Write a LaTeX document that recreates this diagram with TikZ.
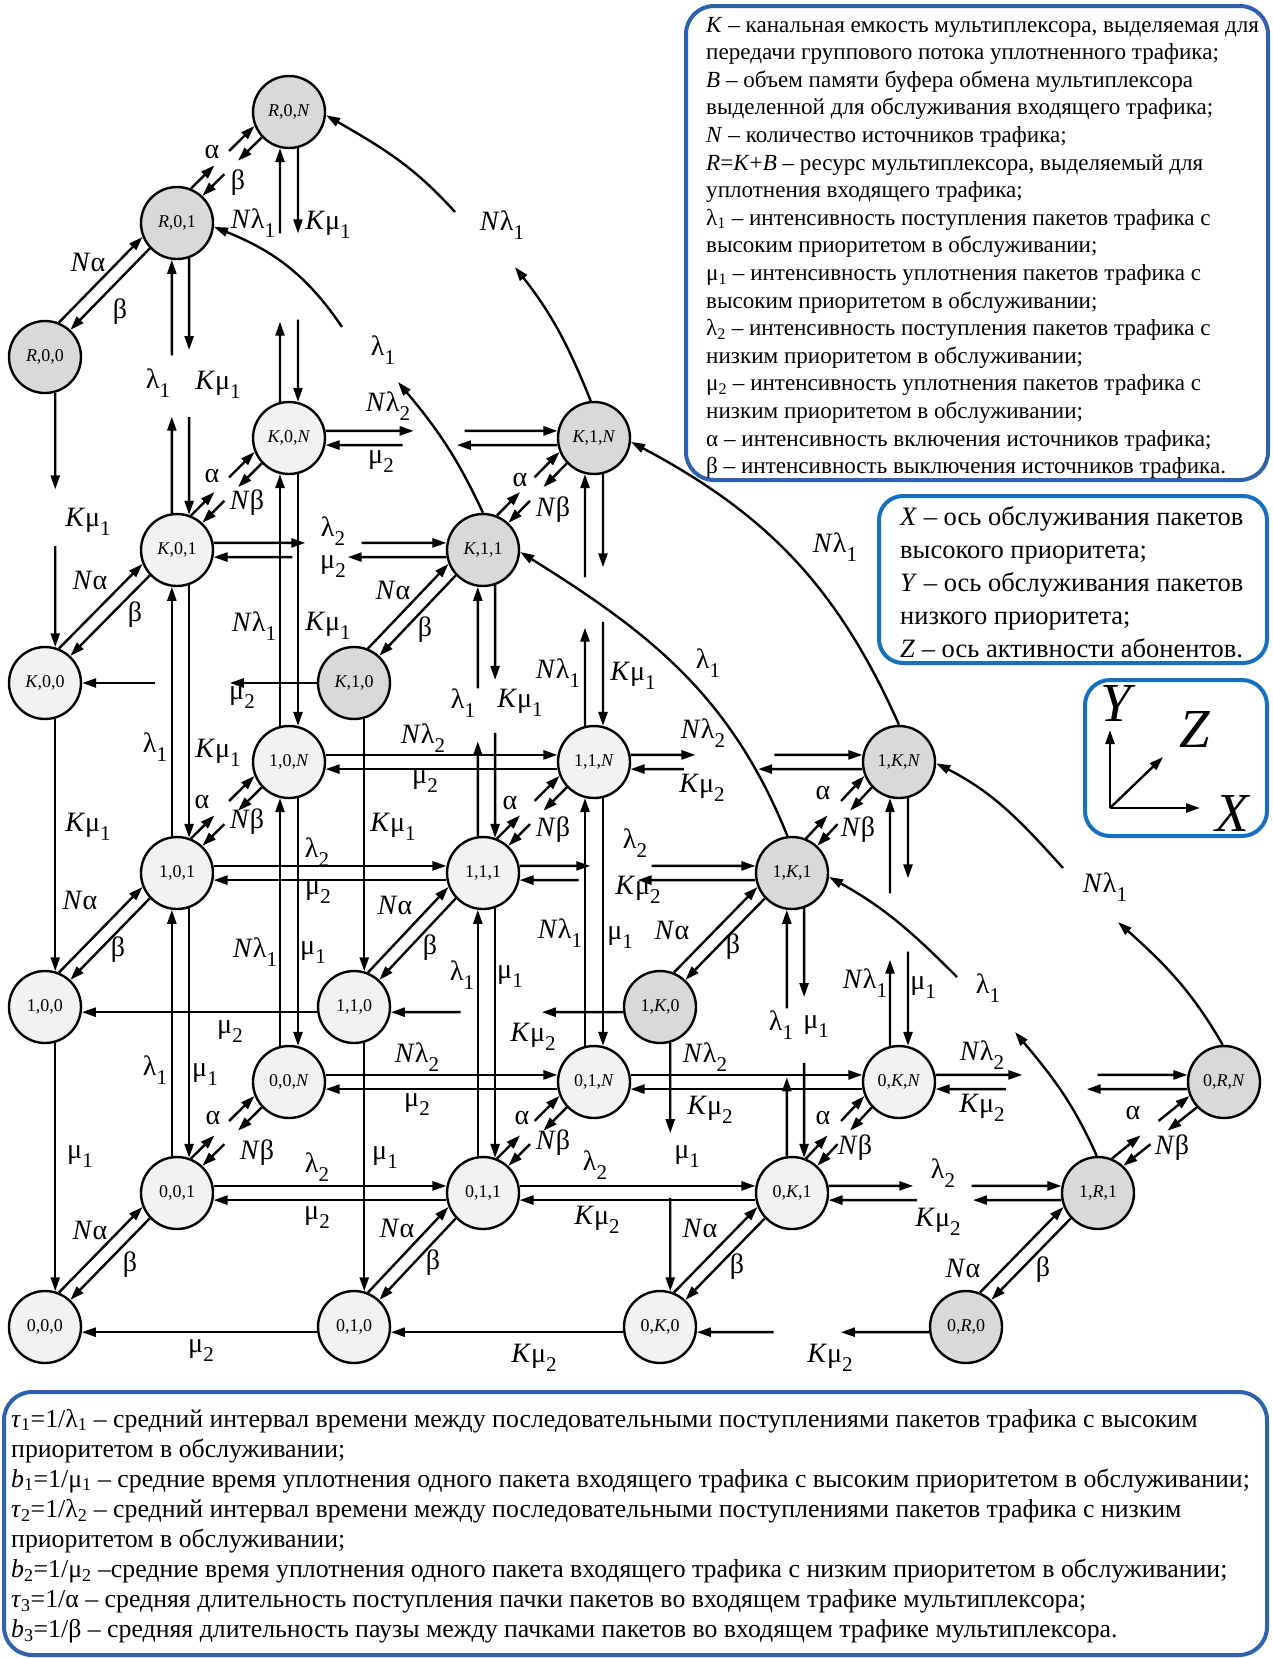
\documentclass[tikz,border=0pt]{standalone}
\usepackage{fontspec}
\setmainfont{Liberation Serif}[Ligatures=TeX]
\usetikzlibrary{arrows.meta,calc}
\definecolor{lightnode}{HTML}{F2F2F2}
\definecolor{darknode}{HTML}{D9D9D9}
\definecolor{boxa}{HTML}{2E62AD}
\definecolor{boxb}{HTML}{1570C2}
\newcommand\lsub[1]{\raisebox{-0.32em}{\fontsize{21}{21}\selectfont #1}}
\newcommand\LNa{\textit{N}α}
\newcommand\LNb{\textit{N}β}
\newcommand\LNlA{\textit{N}λ\lsub{1}}
\newcommand\LNlB{\textit{N}λ\lsub{2}}
\newcommand\LKmA{\textit{K}μ\lsub{1}}
\newcommand\LKmB{\textit{K}μ\lsub{2}}
\newcommand\LlA{λ\lsub{1}}
\newcommand\LlB{λ\lsub{2}}
\newcommand\LmA{μ\lsub{1}}
\newcommand\LmB{μ\lsub{2}}
% diagonal pairs (A lower-left, B upper-right)
\newcommand\dpair[2]{\draw[arr] (#1.68) -- (#2.202); \draw[arr] (#2.223) -- (#1.47);}
\newcommand\dbroken[2]{%
 \draw[arr] (#1.68) -- ($(#1.68)!0.37!(#2.202)$);
 \draw[arr] ($(#1.68)!0.6!(#2.202)$) -- (#2.202);
 \draw[arr] (#2.223) -- ($(#2.223)!0.4!(#1.47)$);
 \draw[arr] ($(#2.223)!0.63!(#1.47)$) -- (#1.47);}
% horizontal pairs (A left, B right)
\newcommand\hpair[2]{\draw[arr] (#1.11) -- (#2.169); \draw[arr] (#2.191) -- (#1.349);}
\newcommand\hbroken[6]{%
 \draw[arr] (#1.11) -- ($(#1.11)!#3!(#2.169)$);
 \draw[arr] ($(#1.11)!#4!(#2.169)$) -- (#2.169);
 \draw[arr] (#2.191) -- ($(#2.191)!#5!(#1.349)$);
 \draw[arr] ($(#2.191)!#6!(#1.349)$) -- (#1.349);}
\newcommand\hsingle[2]{\draw[arr] (#1.188) -- (#2.352);}
\newcommand\hsingleb[4]{%
 \draw[arr] (#1.188) -- ($(#1.188)!#3!(#2.352)$);
 \draw[arr] ($(#1.188)!#4!(#2.352)$) -- (#2.352);}
% vertical pairs (U upper, L lower)
\newcommand\vNpair[2]{\draw[arr] (#2.104) -- (#1.256); \draw[arr] (#1.284) -- (#2.76);}
\newcommand\vOpair[2]{\draw[arr] (#2.98) -- (#1.262); \draw[arr] (#1.289) -- (#2.71);}
\newcommand\vNb[6]{%
 \draw[arr] (#2.104) -- ($(#2.104)!#3!(#1.256)$);
 \draw[arr] ($(#2.104)!#4!(#1.256)$) -- (#1.256);
 \draw[arr] (#1.284) -- ($(#1.284)!#5!(#2.76)$);
 \draw[arr] ($(#1.284)!#6!(#2.76)$) -- (#2.76);}
\newcommand\vOb[6]{%
 \draw[arr] (#2.98) -- ($(#2.98)!#3!(#1.262)$);
 \draw[arr] ($(#2.98)!#4!(#1.262)$) -- (#1.262);
 \draw[arr] (#1.289) -- ($(#1.289)!#5!(#2.71)$);
 \draw[arr] ($(#1.289)!#6!(#2.71)$) -- (#2.71);}
\newcommand\vsingle[2]{\draw[arr] (#1.286) -- (#2.74);}
\newcommand\vsingleb[4]{%
 \draw[arr] (#1.286) -- ($(#1.286)!#3!(#2.74)$);
 \draw[arr] ($(#1.286)!#4!(#2.74)$) -- (#2.74);}
\tikzset{
  st/.style={circle, draw, line width=2.4pt, minimum size=72pt, inner sep=0pt, font=\fontsize{18}{18}\selectfont},
  lt/.style={st, fill=lightnode},
  dk/.style={st, fill=darknode},
  arr/.style={line width=2.4pt, -{Triangle[length=14pt,width=9pt]}},
  lbl/.style={inner sep=0pt, font=\fontsize{28}{28}\selectfont},
  legA/.style={anchor=base west, inner sep=0pt, font=\fontsize{23.1}{23.1}\selectfont},
  legB/.style={anchor=base west, inner sep=0pt, font=\fontsize{26.5}{26.5}\selectfont},
  legC/.style={anchor=base west, inner sep=0pt, font=\fontsize{25.8}{25.8}\selectfont},
  axl/.style={inner sep=0pt, font=\fontsize{55}{55}\selectfont\itshape},
}
\begin{document}
\begin{tikzpicture}[x=1pt,y=1pt]
\fill[white] (0,0) rectangle (1273,-1658);
\useasboundingbox (0,0) rectangle (1273,-1658);

% ---------------- nodes
\node[dk] (nR00) at (45,-357) {\textit{R},0,0};
\node[dk] (nR01) at (177,-223) {\textit{R},0,1};
\node[dk] (nR0N) at (289,-112) {\textit{R},0,\textit{N}};
\node[lt] (nK00) at (45,-683) {\textit{K},0,0};
\node[lt] (nK01) at (177,-550) {\textit{K},0,1};
\node[lt] (nK0N) at (289,-438) {\textit{K},0,\textit{N}};
\node[dk] (nK10) at (354,-683) {\textit{K},1,0};
\node[dk] (nK11) at (483,-550) {\textit{K},1,1};
\node[dk] (nK1N) at (594,-438) {\textit{K},1,\textit{N}};
\node[lt] (n100) at (45,-1007) {1,0,0};
\node[lt] (n101) at (177,-873) {1,0,1};
\node[lt] (n10N) at (289,-762) {1,0,\textit{N}};
\node[lt] (n110) at (354,-1007) {1,1,0};
\node[lt] (n111) at (483,-873) {1,1,1};
\node[lt] (n11N) at (594,-762) {1,1,\textit{N}};
\node[dk] (n1K0) at (660,-1007) {1,\textit{K},0};
\node[dk] (n1K1) at (792,-873) {1,\textit{K},1};
\node[dk] (n1KN) at (899,-762) {1,\textit{K},\textit{N}};
\node[lt] (n000) at (45,-1327) {0,0,0};
\node[lt] (n001) at (177,-1193) {0,0,1};
\node[lt] (n00N) at (289,-1082) {0,0,\textit{N}};
\node[lt] (n010) at (354,-1327) {0,1,0};
\node[lt] (n011) at (483,-1193) {0,1,1};
\node[lt] (n01N) at (594,-1082) {0,1,\textit{N}};
\node[lt] (n0K0) at (660,-1327) {0,\textit{K},0};
\node[lt] (n0K1) at (792,-1193) {0,\textit{K},1};
\node[lt] (n0KN) at (899,-1082) {0,\textit{K},\textit{N}};
\node[dk] (n0R0) at (966,-1327) {0,\textit{R},0};
\node[dk] (n1R1) at (1098,-1193) {1,\textit{R},1};
\node[dk] (n0RN) at (1224,-1082) {0,\textit{R},\textit{N}};

% ---------------- R layer
\dpair{nR00}{nR01}
\dbroken{nR01}{nR0N}
\vNb{nR0N}{nK0N}{0.316}{0.664}{0.336}{0.676}
\vOb{nR01}{nK01}{0.381}{0.623}{0.358}{0.619}
\vsingleb{nR00}{nK00}{0.38}{0.603}

% ---------------- K layer
\hbroken{nK0N}{nK1N}{0.38}{0.60}{0.434}{0.668}
\dbroken{nK01}{nK0N}
\dpair{nK00}{nK01}
\hbroken{nK01}{nK11}{0.394}{0.636}{0.424}{0.661}
\draw[arr] (nK10.180) -- ($(nK10.180)!0.371!(nK00.0)$);
\draw[arr] ($(nK10.180)!0.688!(nK00.0)$) -- (nK00.0);
\dpair{nK10}{nK11}
\dbroken{nK11}{nK1N}
\vNpair{nK0N}{n10N}
\vOpair{nK01}{n101}
\vsingle{nK00}{n100}
\vOb{nK11}{n111}{0.38}{0.593}{0.375}{0.585}
\vNb{nK1N}{n11N}{0.39}{0.59}{0.37}{0.587}
\vsingle{nK10}{n110}

% ---------------- 1 layer
\hpair{n10N}{n11N}
\hbroken{n11N}{n1KN}{0.28}{0.62}{0.45}{0.77}
\hpair{n101}{n111}
\hbroken{n111}{n1K1}{0.30}{0.56}{0.50}{0.75}
\hsingle{n110}{n100}
\hsingleb{n1K0}{n110}{0.35}{0.70}
\dbroken{n101}{n10N}
\dbroken{n111}{n11N}
\dbroken{n1K1}{n1KN}
\dpair{n100}{n101}
\dpair{n110}{n111}
\dpair{n1K0}{n1K1}
\vNpair{n10N}{n00N}
\vOpair{n101}{n001}
\vsingle{n100}{n000}
\vOpair{n111}{n011}
\vNpair{n11N}{n01N}
\vsingle{n110}{n010}
\vNb{n1KN}{n0KN}{0.348}{0.616}{0.324}{0.62}
\vOb{n1K1}{n0K1}{0.32}{0.6}{0.356}{0.62}
\vsingleb{n1K0}{n0K0}{0.364}{0.624}

% ---------------- 0 layer
\hpair{n00N}{n01N}
\hpair{n01N}{n0KN}
\hbroken{n0KN}{n0RN}{0.345}{0.643}{0.40}{0.72}
\hpair{n001}{n011}
\hpair{n011}{n0K1}
\hbroken{n0K1}{n1R1}{0.364}{0.614}{0.38}{0.62}
\hsingle{n010}{n000}
\hsingle{n0K0}{n010}
\hsingleb{n0R0}{n0K0}{0.38}{0.67}
\dbroken{n001}{n00N}
\dbroken{n011}{n01N}
\dbroken{n0K1}{n0KN}
\dbroken{n1R1}{n0RN}
\dpair{n000}{n001}
\dpair{n010}{n011}
\dpair{n0K0}{n0K1}
\dpair{n0R0}{n1R1}

% ---------------- curves
\coordinate (c1a) at (515,-267);
\coordinate (c1b) at (455,-212);
\coordinate (c2a) at (398,-382);
\coordinate (c2b) at (342,-327);
\coordinate (c5a) at (1015,-1032);
\coordinate (c5b) at (957,-977);
\coordinate (c6a) at (1118,-922);
\coordinate (c6b) at (1063,-868);
\draw[arr] (nK1N.95) to[out=112,in=-52] (c1a);
\draw[arr] (c1b) to[out=132,in=-30] (nR0N.355);
\draw[arr] (nK11.90) to[out=115,in=-50] (c2a);
\draw[arr] (c2b) to[out=124,in=-22] (nR01.354);
\draw[arr] (n1KN.90) to[out=114,in=-28] (nK1N.354);
\draw[arr] (n1K1.97) to[out=112,in=-32] (nK11.357);
\draw[arr] (n1R1.92) to[out=114,in=-50] (c5a);
\draw[arr] (c5b) to[out=135,in=-29] (n1K1.354);
\draw[arr] (n0RN.92) to[out=120,in=-42] (c6a);
\draw[arr] (c6b) to[out=132,in=-27] (n1KN.358);

% ---------------- labels
\foreach \x/\y/\t [count=\i] in {
 88/262/\LNa, 120/312/β, 212/152/α, 238/183/β, 253/223/\LNlA, 328/225/\LKmA,
 158/383/\LlA, 218/385/\LKmA, 88/522/\LKmA, 502/225/\LNlA, 383/350/\LlA,
 388/406/\LNlB, 381/462/\LmB, 212/476/α, 247/503/\LNb, 90/580/\LNa, 135/615/β,
 333/531/\LlB, 333/567/\LmB, 254/626/\LNlA, 328/626/\LKmA, 155/747/\LlA, 218/753/\LKmA,
 242/698/\LmB, 88/827/\LKmA, 520/480/α, 553/510/\LNb, 393/590/\LNa, 425/630/β,
 463/703/\LlA, 520/703/\LKmA, 558/673/\LNlA, 633/676/\LKmA, 835/547/\LNlA, 708/663/\LlA,
 423/738/\LNlB, 425/782/\LmB, 202/802/α, 247/822/\LNb, 80/900/\LNa, 118/950/β,
 317/852/\LlB, 318/893/\LmB, 255/952/\LNlA, 313/953/\LmA, 155/1070/\LlA, 205/1075/\LmA,
 230/1032/\LmB, 80/1157/\LmA, 393/827/\LKmA, 510/803/α, 553/830/\LNb, 395/905/\LNa,
 430/948/β, 703/733/\LNlB, 702/788/\LKmB, 635/843/\LlB, 638/890/\LKmB, 560/933/\LNlA,
 620/938/\LmA, 462/975/\LlA, 510/977/\LmA, 533/1037/\LKmB, 385/1158/\LmA, 823/793/α,
 858/830/\LNb, 672/930/\LNa, 733/947/β, 865/983/\LNlA, 923/988/\LmA, 781/1025/\LlA,
 816/1027/\LmA, 687/1157/\LmA, 1105/887/\LNlA, 988/988/\LlA,
 417/1057/\LNlB, 417/1105/\LmB, 213/1118/α, 257/1153/\LNb, 90/1230/\LNa, 130/1265/β,
 317/1167/\LlB, 317/1218/\LmB, 201/1351/\LmB, 522/1118/α, 553/1143/\LNb, 397/1228/\LNa,
 433/1263/β, 705/1057/\LNlB, 710/1110/\LKmB, 595/1165/\LlB, 597/1220/\LKmB, 534/1358/\LKmB,
 823/1118/α, 855/1148/\LNb, 700/1228/\LNa, 737/1267/β, 982/1055/\LNlB, 982/1108/\LKmB,
 943/1173/\LlB, 938/1222/\LKmB, 830/1358/\LKmB, 1133/1113/α, 1172/1148/\LNb,
 963/1268/\LNa, 1043/1270/β}
 \node[lbl] (lab\i) at (\x,-\y) {\t};

% ---------------- legend 1
\draw[boxa, line width=4pt, rounded corners=28pt] (686,-6) rectangle (1268,-480);
\foreach \t [count=\i from 0] in {
 {\textit{K} – канальная емкость мультиплексора, выделяемая для},
 {передачи группового потока уплотненного трафика;},
 {\textit{B} – объем памяти буфера обмена мультиплексора},
 {выделенной для обслуживания входящего трафика;},
 {\textit{N} – количество источников трафика;},
 {\textit{R}=\textit{K}+\textit{B} – ресурс мультиплексора, выделяемый для},
 {уплотнения входящего трафика;},
 {λ\textsubscript{1} – интенсивность поступления пакетов трафика с},
 {высоким приоритетом в обслуживании;},
 {μ\textsubscript{1} – интенсивность уплотнения пакетов трафика с},
 {высоким приоритетом в обслуживании;},
 {λ\textsubscript{2} – интенсивность поступления пакетов трафика с},
 {низким приоритетом в обслуживании;},
 {μ\textsubscript{2} – интенсивность уплотнения пакетов трафика с},
 {низким приоритетом в обслуживании;},
 {α – интенсивность включения источников трафика;},
 {β – интенсивность выключения источников трафика.}}
 \node[legA] (ta\i) at (706,{-32-27.6*\i}) {\t};

% ---------------- legend 2
\draw[boxb, line width=4pt, rounded corners=24pt] (879,-496) rectangle (1267,-663);
\foreach \t [count=\i from 0] in {
 {\textit{X} – ось обслуживания пакетов},
 {высокого приоритета;},
 {\textit{Y} – ось обслуживания пакетов},
 {низкого приоритета;},
 {\textit{Z} – ось активности абонентов.}}
 \node[legB] (tb\i) at (900,{-525-33*\i}) {\t};

% ---------------- axes box
\draw[boxb, line width=4pt, rounded corners=25pt] (1085,-680) rectangle (1267,-836);
\coordinate (ax0) at (1110,-808);
\coordinate (axY) at (1110,-730);
\coordinate (axX) at (1200,-808);
\coordinate (axZ) at (1163,-757);
\draw[arr] (ax0) -- (axY);
\draw[arr] (ax0) -- (axX);
\draw[arr] (ax0) -- (axZ);
\node[axl] (lY) at (1116,-703) {Y};
\node[axl] (lZ) at (1195,-729) {Z};
\node[axl] (lX) at (1232,-813) {X};

% ---------------- legend 3
\draw[boxa, line width=4pt, rounded corners=28pt] (4,-1392) rectangle (1267,-1655);
\foreach \t [count=\i from 0] in {
 {\textit{τ}\textsubscript{1}=1/λ\textsubscript{1} – средний интервал времени между последовательными поступлениями пакетов трафика с высоким},
 {приоритетом в обслуживании;},
 {\textit{b}\textsubscript{1}=1/μ\textsubscript{1} – средние время уплотнения одного пакета входящего трафика с высоким приоритетом в обслуживании;},
 {\textit{τ}\textsubscript{2}=1/λ\textsubscript{2} – средний интервал времени между последовательными поступлениями пакетов трафика с низким},
 {приоритетом в обслуживании;},
 {\textit{b}\textsubscript{2}=1/μ\textsubscript{2} –средние время уплотнения одного пакета входящего трафика с низким приоритетом в обслуживании;},
 {\textit{τ}\textsubscript{3}=1/α – средняя длительность поступления пачки пакетов во входящем трафике мультиплексора;},
 {\textit{b}\textsubscript{3}=1/β – средняя длительность паузы между пачками пакетов во входящем трафике мультиплексора.}}
 \node[legC] (tc\i) at (11,{-1427-30.1*\i}) {\t};
\end{tikzpicture}
\end{document}
